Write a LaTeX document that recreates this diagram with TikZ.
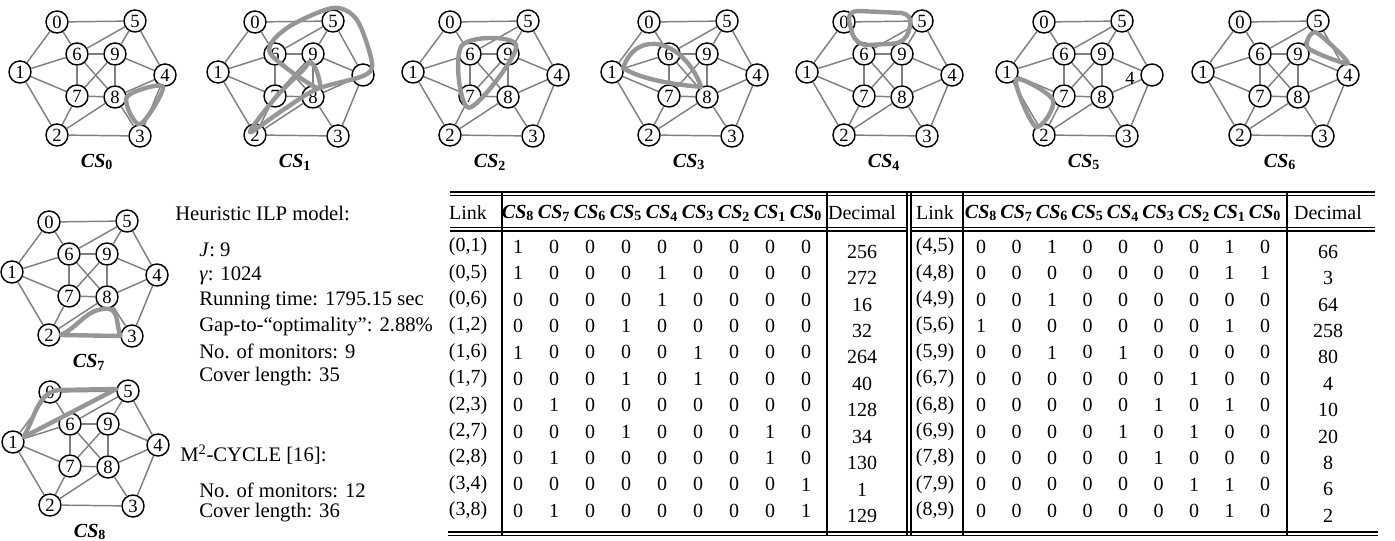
\documentclass[tikz,border=0pt]{standalone}
\usepackage{fontspec}
\setmainfont{Liberation Serif}
\usetikzlibrary{positioning}
\definecolor{edgegray}{RGB}{128,128,128}
\definecolor{cycgray}{RGB}{150,150,150}
\newcommand\csl[1]{\textbf{\textit{CS}\textsubscript{\upshape #1}}}
\newcommand\cspanel[6]{%
\begin{scope}[shift={(#2,#3)},name prefix=#1-]
\foreach \n/\x/\y in {0/57/22,5/135/21,6/77/54,9/115/54,1/20/72,7/77/96,8/115/97,2/57/135,3/140/136}
  \node[vtx] (\n) at (\x,\y) {\n};
\node[vtx] (4) at (165,75) {#5};
\foreach \a/\b in {0/1,0/5,0/6,1/2,1/6,1/7,2/3,2/7,2/8,3/4,3/8,4/5,4/8,4/9,5/6,5/9,6/7,6/8,6/9,7/8,7/9,8/9}
  \draw[lnk] (\a) -- (\b);
#6
\node[cslbl] (name) at (97,162) {\csl{#4}};
\end{scope}}
\newcommand\tabhalf[6]{%
\node[txt] (#1-link) at (#2,213) {Link};
\foreach \c [evaluate=\c as \x using #3+#4*(8-\c)] in {8,...,0}
  \node[txt] (#1-h\c) at (\x,213) {\csl{\c}};
\node[txt] (#1-dec) at (#5,213) {Decimal};
\foreach \lk/\bits/\dec [count=\r, evaluate=\r as \y using 220.4+26.4*\r] in {#6} {
  \node[txt] (#1-l\r) at (#2,\y) {\lk};
  \foreach \b [count=\c, evaluate=\c as \x using #3+#4*(\c-1)] in \bits
    \node[txt] (#1-\r-\c) at (\x,\y) {\b};
  \node[txt] (#1-d\r) at (#5,\y+5) {\dec};
}}

\begin{document}
\begin{tikzpicture}[x=0.75pt,y=-0.75pt]
\tikzstyle{vtx}=[circle,draw,line width=1.1pt,fill=white,minimum size=16.5pt,inner sep=0pt,font=\fontsize{14}{14}\selectfont]
\tikzstyle{lnk}=[draw=edgegray,line width=1.1pt]
\tikzstyle{cyc}=[draw=cycgray,line width=3.3pt,line join=round,line cap=round]
\tikzstyle{cslbl}=[font=\fontsize{15}{15}\selectfont]
\tikzstyle{txt}=[inner sep=0pt,font=\fontsize{15}{15}\selectfont]
\tikzstyle{desc}=[inner sep=0pt,anchor=west,font=\fontsize{15.5}{15.5}\selectfont]
\tikzstyle{rule}=[line width=0.9pt]
\useasboundingbox (0,0) rectangle (1395,541);

\cspanel{s0}{0}{0}{0}{4}{\draw[cyc] plot[smooth cycle,tension=.55] coordinates {(8.east) (4.-100) (3.north)};}
\cspanel{s1}{198}{0}{1}{}{\draw[cyc] plot[smooth cycle,tension=.5] coordinates {(52,132) (78,97) (105,70) (112,62) (119,72) (119,88) (72,53) (89,28) (135,8) (159,20) (174,63) (165,76) (119,89) (85,110)};}
\cspanel{s2}{393}{0}{2}{4}{\draw[cyc] plot[smooth cycle,tension=.6] coordinates {(6.135) (9.45) (7.-95)};}
\cspanel{s3}{592}{0}{3}{4}{\draw[cyc] (1.20) .. controls (45,28) and (92,40) .. (8.120) .. controls (85,85) and (50,80) .. (1.20);}
\cspanel{s4}{787}{0}{4}{4}{\draw[cyc,rounded corners=9pt] (0.80) -- (5.140) -- (9.70) -- (6.135) -- cycle;}
\cspanel{s5}{987}{0}{5}{}{\node[vtx,draw=none,fill=none] (t4) at (143,78) {4};
  \draw[cyc] plot[smooth cycle,tension=.55] coordinates {(1.-40) (7.200) (2.135)};}
\cspanel{s6}{1183}{0}{6}{4}{\draw[cyc] plot[smooth cycle,tension=.5] coordinates {(5.-100) (9.30) (4.north)};}
\cspanel{s7}{-8}{200}{7}{4}{\draw[cyc] (2.east) to[out=25,in=180] (8.south) to[out=0,in=110] (3.west) -- cycle;}
\cspanel{s8}{-7}{370}{8}{4}{\draw[cyc] (1.25) to[out=60,in=180] (0.10) -- (5.170) -- cycle;}

\node[desc] (ilp) at (175,213) {Heuristic ILP model:};
\foreach \t [count=\i, evaluate=\i as \y using 224.6+25.4*\i] in {\textit{J}: 9, \textit{γ}: 1024, Running time: 1795.15 sec, Gap-to-“optimality”: 2.88\%, No. of monitors: 9, Cover length: 35}
  \node[desc] (ilp\i) at (199,\y) {\t};
\node[desc] (mcyc) at (180,455) {M\textsuperscript{2}-CYCLE [16]:};
\node[desc] (mcyc1) at (199,490) {No. of monitors: 12};
\node[desc] (mcyc2) at (199,513) {Cover length: 36};

\tabhalf{L}{468}{518}{36}{862}{{(0,1)}/{1,0,0,0,0,0,0,0,0}/256, {(0,5)}/{1,0,0,0,1,0,0,0,0}/272, {(0,6)}/{0,0,0,0,1,0,0,0,0}/16, {(1,2)}/{0,0,0,1,0,0,0,0,0}/32, {(1,6)}/{1,0,0,0,0,1,0,0,0}/264, {(1,7)}/{0,0,0,1,0,1,0,0,0}/40, {(2,3)}/{0,1,0,0,0,0,0,0,0}/128, {(2,7)}/{0,0,0,1,0,0,0,1,0}/34, {(2,8)}/{0,1,0,0,0,0,0,1,0}/130, {(3,4)}/{0,0,0,0,0,0,0,0,1}/1, {(3,8)}/{0,1,0,0,0,0,0,0,1}/129}
\tabhalf{R}{935}{981}{35.5}{1328}{{(4,5)}/{0,0,1,0,0,0,0,1,0}/66, {(4,8)}/{0,0,0,0,0,0,0,1,1}/3, {(4,9)}/{0,0,1,0,0,0,0,0,0}/64, {(5,6)}/{1,0,0,0,0,0,0,1,0}/258, {(5,9)}/{0,0,1,0,1,0,0,0,0}/80, {(6,7)}/{0,0,0,0,0,0,1,0,0}/4, {(6,8)}/{0,0,0,0,0,1,0,1,0}/10, {(6,9)}/{0,0,0,0,1,0,1,0,0}/20, {(7,8)}/{0,0,0,0,0,1,0,0,0}/8, {(7,9)}/{0,0,0,0,0,0,1,1,0}/6, {(8,9)}/{0,0,0,0,0,0,0,1,0}/2}

\draw[rule] (450,192) -- (1375,192) (450,195.5) -- (1375,195.5);
\draw[rule] (450,227.5) -- (907,227.5) (450,231) -- (907,231) (911,227.5) -- (1375,227.5) (911,231) -- (1375,231);
\draw[rule] (448,532) -- (1378,532) (448,535.5) -- (1378,535.5);
\draw[rule] (502,192) -- (502,535.5) (827,192) -- (827,535.5) (907,192) -- (907,535.5) (911,192) -- (911,535.5) (963,192) -- (963,535.5) (1287,192) -- (1287,535.5);
\end{tikzpicture}
\end{document}
